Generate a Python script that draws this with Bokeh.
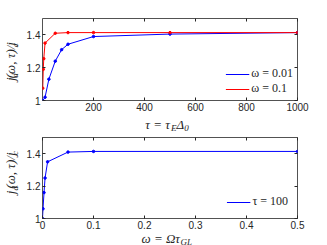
import math
from bokeh.plotting import figure
from bokeh.models import (Range1d, FixedTicker, LinearAxis, Legend, LegendItem,
                          CustomLabelingPolicy)
from bokeh.core.properties import value
from bokeh.layouts import column, row
from bokeh.embed import file_html
from bokeh.resources import INLINE

# ---- data ----
tau_w001 = [1, 10, 25, 50, 75, 100, 200, 500, 1000]
jd_w001 = [1.0, 1.02, 1.13, 1.24, 1.31, 1.343, 1.39, 1.405, 1.414]
tau_w01 = [1, 3, 5, 10, 50, 100, 200, 500, 1000]
jd_w01 = [1.075, 1.19, 1.255, 1.35, 1.41, 1.414, 1.414, 1.414, 1.414]
omega_t100 = [0, 0.001, 0.003, 0.005, 0.01, 0.05, 0.1, 0.5]
jd_t100 = [1.0, 1.06, 1.16, 1.25, 1.35, 1.41, 1.414, 1.414]

top_xticks = [200, 400, 600, 800, 1000]
bot_xticks = [0, 0.1, 0.2, 0.3, 0.4, 0.5]
yticks = [1, 1.2, 1.4]
legend_top = ["ω = 0.01", "ω = 0.1"]
legend_bot = ["τ = 100"]

BLUE = "#0000ff"
RED = "#ff0000"
AX = "#262626"

W = {'j': 0.278, 'd': 0.5, '(': 0.333, ')': 0.333, 'ω': 0.67, ',': 0.25, ' ': 0.25,
     'τ': 0.44, '/': 0.278, 'c': 0.444, '=': 0.675, 'E': 0.611, 'Δ': 0.612,
     '0': 0.5, 'Ω': 0.77, 'G': 0.722, 'L': 0.556}

YLW = 20          # width of y-label strip
MAINW = 327 - YLW


def make_fig(h, tb, bb, xr):
    p = figure(width=MAINW, height=h, x_range=Range1d(*xr), y_range=Range1d(1, 1.5),
               output_backend="svg", toolbar_location=None,
               min_border_left=22, min_border_right=30,
               min_border_top=tb, min_border_bottom=bb)
    p.add_layout(LinearAxis(), "above")
    p.add_layout(LinearAxis(), "right")
    p.grid.visible = False
    p.outline_line_color = AX
    p.outline_line_width = 0.8
    for ax in p.axis:
        ax.axis_line_color = None
        ax.major_tick_in = 3
        ax.major_tick_out = 0
        ax.minor_tick_line_color = None
        ax.major_tick_line_color = AX
        ax.major_label_text_font = "Liberation Sans"
        ax.major_label_text_font_size = "10px"
        ax.major_label_text_color = AX
        ax.major_label_standoff = 2
    for ax in p.above + p.right:
        ax.major_label_policy = CustomLabelingPolicy(code="return new Set()")
        ax.major_label_text_font_size = "1px"
        ax.major_label_standoff = 0
    return p


def label_fig(w, h):
    f = figure(width=w, height=h, x_range=Range1d(0, w), y_range=Range1d(0, h),
               output_backend="svg", toolbar_location=None,
               min_border=0, x_axis_location=None, y_axis_location=None)
    f.grid.visible = False
    f.outline_line_color = None
    return f


def place(f, pieces, cx, cy, angle, gap=0.0):
    widths = [sum(W.get(ch, 0.5) for ch in t) * s for t, s, sh in pieces]
    total = sum(widths) + gap * (len(pieces) - 1)
    along = -total / 2
    for (t, s, sh), w in zip(pieces, widths):
        mid = along + w / 2
        if angle == 0:
            x, y = cx + mid, cy - sh
        else:
            x, y = cx + sh, cy + mid
        f.text(x=[x], y=[y], text=[t], angle=angle,
               text_font=value("Liberation Serif"), text_font_style="italic",
               text_font_size=f"{s}px", text_align="center", text_baseline="middle",
               text_color=AX)
        along += w + gap


YPIECES = [("j", 13, 0), ("d", 9, 4), ("(ω, τ)/j", 13, 0), ("c", 9, 4)]


def legend(items, margin):
    return Legend(items=items, location="bottom_right", border_line_alpha=0,
                  background_fill_alpha=0, label_text_font="Liberation Serif",
                  label_text_font_size="12px", label_text_color=AX,
                  glyph_width=24, glyph_height=12, label_height=12, label_standoff=2,
                  spacing=0, padding=2, margin=margin)


# ---- top panel ----
H1 = 115
p1 = make_fig(H1, 18, 15, (0, 1000))
for ax in p1.xaxis:
    ax.ticker = FixedTicker(ticks=top_xticks)
for ax in p1.yaxis:
    ax.ticker = FixedTicker(ticks=yticks)
    ax.major_label_overrides = {1: "1", 1.2: "1.2", 1.4: "1.4"}

lb = p1.line(tau_w001, jd_w001, line_color=BLUE, line_width=1)
p1.scatter(tau_w001, jd_w001, color=BLUE, size=2.5)
lr = p1.line(tau_w01, jd_w01, line_color=RED, line_width=1)
p1.scatter(tau_w01, jd_w01, color=RED, size=2.5)
p1.add_layout(legend([LegendItem(label=legend_top[0], renderers=[lb]),
                      LegendItem(label=legend_top[1], renderers=[lr])], 2))

yl1 = label_fig(YLW, H1)
place(yl1, YPIECES, 10, H1 - 61, math.pi / 2, gap=1.0)

XL1 = 18
xl1 = label_fig(327, XL1)
place(xl1, [("τ = τ", 13, 0), ("E", 9, 3), ("Δ", 13, 0), ("0", 9, 3)], 166, 9, 0)

# ---- bottom panel ----
H2 = 99
p2 = make_fig(H2, 1, 14, (0, 0.5))
for ax in p2.xaxis:
    ax.ticker = FixedTicker(ticks=bot_xticks)
    ax.major_label_overrides = {0: "0", 0.1: "0.1", 0.2: "0.2", 0.3: "0.3",
                                0.4: "0.4", 0.5: "0.5"}
for ax in p2.yaxis:
    ax.ticker = FixedTicker(ticks=yticks)
    ax.major_label_overrides = {1: "1", 1.2: "1.2", 1.4: "1.4"}

l3 = p2.line(omega_t100, jd_t100, line_color=BLUE, line_width=1)
p2.scatter(omega_t100, jd_t100, color=BLUE, size=2.5)
p2.add_layout(legend([LegendItem(label=legend_bot[0], renderers=[l3])], 7))

yl2 = label_fig(YLW, H2)
place(yl2, YPIECES, 10, H2 - 43, math.pi / 2, gap=1.0)

XL2 = 245 - H1 - XL1 - H2
xl2 = label_fig(327, XL2)
place(xl2, [("ω = Ωτ", 13, 0), ("GL", 9, 3)], 166, XL2 - 6, 0)

layout = column(row(yl1, p1, spacing=0), xl1, row(yl2, p2, spacing=0), xl2, spacing=0)
open("out.html", "w").write(file_html(layout, INLINE))
